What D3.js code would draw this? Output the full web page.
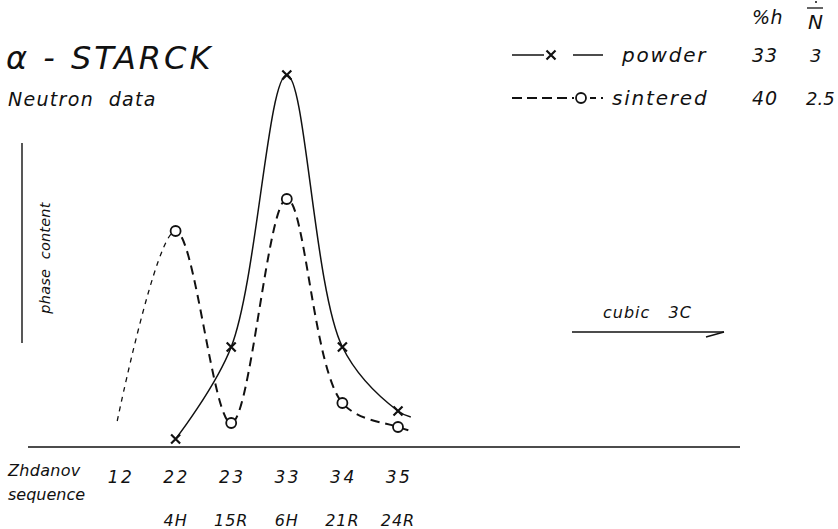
<!DOCTYPE html>
<html>
<head>
<meta charset="utf-8">
<script src="https://cdn.jsdelivr.net/npm/d3@7"></script>
<style>
  html, body { margin: 0; padding: 0; background: #fff; }
  svg { display: block; }
  text { font-family: "DejaVu Sans", sans-serif; font-style: italic; fill: #111; }
</style>
</head>
<body>
<svg id="chart" width="838" height="529"></svg>
<script>
// ---- data ----
const zhdanov = ["12", "22", "23", "33", "34", "35"];
const polytypes = ["", "4H", "15R", "6H", "21R", "24R"];
const markerPos = [1, 2, 3, 4, 5];
const powderValues = [2, 25, 93, 25, 9];
const sinteredValues = [54, 6, 62, 11, 5];
// unmarked ends of the drawn curves
const powderTail = [5.23, 7.5];
const sinteredHead = [-0.05, 6.5];
const sinteredTail = [5.23, 4];
const legendRows = [
  { name: "powder", h: "33", n: "3" },
  { name: "sintered", h: "40", n: "2.5" }
];

// ---- drawing ----
const svg = d3.select("#chart");
const x = d3.scaleLinear().domain([0, 5]).range([120, 398]);
const y = d3.scaleLinear().domain([0, 100]).range([447, 47]);

const line = d3.line().x(d => x(d[0])).y(d => y(d[1])).curve(d3.curveCatmullRom.alpha(0.5));

const powderPts = markerPos.map((p, i) => [p, powderValues[i]]).concat([powderTail]);
const sinteredPts = [sinteredHead].concat(markerPos.map((p, i) => [p, sinteredValues[i]])).concat([sinteredTail]);

// baseline
svg.append("line").attr("x1", 28).attr("x2", 740).attr("y1", y(0)).attr("y2", y(0))
  .attr("stroke", "#111").attr("stroke-width", 1.6);
// vertical "phase content" bar
svg.append("line").attr("x1", 22).attr("x2", 22).attr("y1", 143).attr("y2", 343)
  .attr("stroke", "#111").attr("stroke-width", 1.4);
svg.append("text").attr("transform", "translate(50,258) rotate(-90)")
  .attr("text-anchor", "middle").attr("font-size", 14.5).attr("letter-spacing", 0.2)
  .attr("xml:space", "preserve").text("phase  content");

// clip paths for sintered curve segments
const defs = svg.append("defs");
defs.append("clipPath").attr("id", "leftClip").append("rect")
  .attr("x", 0).attr("y", 0).attr("width", x(1)).attr("height", 529);
defs.append("clipPath").attr("id", "rightClip").append("rect")
  .attr("x", x(1)).attr("y", 0).attr("width", 838 - x(1)).attr("height", 529);

svg.append("path").attr("d", line(powderPts)).attr("fill", "none")
  .attr("stroke", "#111").attr("stroke-width", 1.5);
svg.append("path").attr("d", line(sinteredPts)).attr("fill", "none")
  .attr("clip-path", "url(#leftClip)")
  .attr("stroke", "#111").attr("stroke-width", 1.3).attr("stroke-dasharray", "5,5");
svg.append("path").attr("d", line(sinteredPts)).attr("fill", "none")
  .attr("clip-path", "url(#rightClip)")
  .attr("stroke", "#111").attr("stroke-width", 2).attr("stroke-dasharray", "9,6");

function cross(g, cx, cy) {
  const s = 4.5;
  g.append("path").attr("d", `M${cx - s},${cy - s}L${cx + s},${cy + s}M${cx - s},${cy + s}L${cx + s},${cy - s}`)
    .attr("stroke", "#111").attr("stroke-width", 2.2).attr("fill", "none");
}
function circ(g, cx, cy) {
  g.append("circle").attr("cx", cx).attr("cy", cy).attr("r", 5)
    .attr("fill", "#fff").attr("stroke", "#111").attr("stroke-width", 1.8);
}
markerPos.forEach((p, i) => cross(svg, x(p), y(powderValues[i])));
markerPos.forEach((p, i) => circ(svg, x(p), y(sinteredValues[i])));

// category labels
svg.append("text").attr("x", 8).attr("y", 476).attr("font-size", 16).attr("letter-spacing", 0.3).text("Zhdanov");
svg.append("text").attr("x", 8).attr("y", 500).attr("font-size", 16).text("sequence");
svg.selectAll(".zl").data(zhdanov).enter().append("text")
  .attr("x", (d, i) => x(i) + 1).attr("y", 483).attr("text-anchor", "middle")
  .attr("font-size", 17).attr("letter-spacing", 2.5).text(d => d);
svg.selectAll(".pl").data(polytypes).enter().append("text")
  .attr("x", (d, i) => x(i)).attr("y", 526).attr("text-anchor", "middle")
  .attr("font-size", 16).attr("letter-spacing", 1).text(d => d);

// titles
svg.append("text").attr("x", 6).attr("y", 69).attr("font-size", 32).attr("letter-spacing", 3)
  .attr("xml:space", "preserve").text("α - STARCK");
svg.append("text").attr("x", 8).attr("y", 106).attr("font-size", 19).attr("letter-spacing", 1.3)
  .attr("xml:space", "preserve").text("Neutron  data");

// legend
svg.append("text").attr("x", 752).attr("y", 24).attr("font-size", 19).attr("letter-spacing", 0.5).text("%h");
svg.append("text").attr("x", 808).attr("y", 29).attr("font-size", 20).text("N");
svg.append("line").attr("x1", 807).attr("x2", 823).attr("y1", 8).attr("y2", 8).attr("stroke", "#111").attr("stroke-width", 1.3);
svg.append("circle").attr("cx", 816).attr("cy", 2).attr("r", 1).attr("fill", "#111");

const ly = [55, 98];
const lg = svg.append("g");
lg.append("line").attr("x1", 512).attr("x2", 544).attr("y1", ly[0]).attr("y2", ly[0]).attr("stroke", "#111").attr("stroke-width", 1.5);
cross(lg, 551, ly[0]);
lg.append("line").attr("x1", 573).attr("x2", 603).attr("y1", ly[0]).attr("y2", ly[0]).attr("stroke", "#111").attr("stroke-width", 1.5);
lg.append("line").attr("x1", 512).attr("x2", 574).attr("y1", ly[1]).attr("y2", ly[1]).attr("stroke", "#111").attr("stroke-width", 2).attr("stroke-dasharray", "10,5");
circ(lg, 581, ly[1]);
lg.append("line").attr("x1", 590).attr("x2", 606).attr("y1", ly[1]).attr("y2", ly[1]).attr("stroke", "#111").attr("stroke-width", 2).attr("stroke-dasharray", "6,5,2,5");
const lx = [622, 612];
const nx = [810, 806];
legendRows.forEach((r, i) => {
  svg.append("text").attr("x", lx[i]).attr("y", ly[i] + 7).attr("font-size", 20).attr("letter-spacing", 1.8).text(r.name);
  svg.append("text").attr("x", 752).attr("y", ly[i] + 7).attr("font-size", 19).attr("letter-spacing", 1).text(r.h);
  svg.append("text").attr("x", nx[i]).attr("y", ly[i] + 7).attr("font-size", 18).text(r.n);
});

// cubic 3C arrow
svg.append("text").attr("x", 603).attr("y", 318).attr("font-size", 16).attr("letter-spacing", 1)
  .attr("xml:space", "preserve").text("cubic   3C");
svg.append("line").attr("x1", 572).attr("x2", 724).attr("y1", 332).attr("y2", 332).attr("stroke", "#111").attr("stroke-width", 1.3);
svg.append("line").attr("x1", 706).attr("x2", 724).attr("y1", 337).attr("y2", 332).attr("stroke", "#111").attr("stroke-width", 1.3);
</script>
</body>
</html>
